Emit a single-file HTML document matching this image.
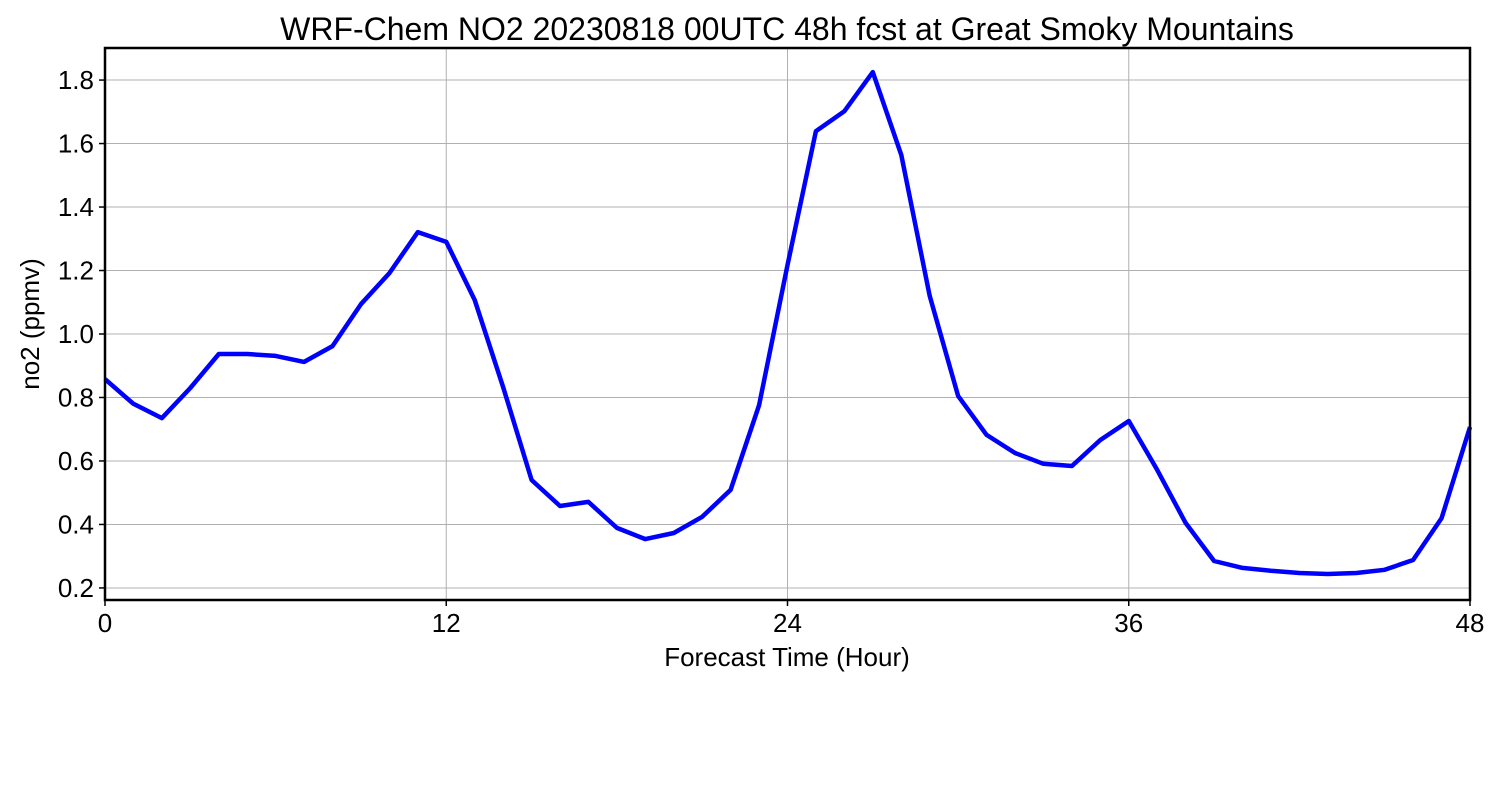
<!DOCTYPE html>
<html><head><meta charset="utf-8"><style>
body{margin:0;background:#fff;}
svg text{font-family:"Liberation Sans","DejaVu Sans",sans-serif;fill:#000;}
</style></head><body>
<svg id="chart" width="1500" height="800" xmlns="http://www.w3.org/2000/svg">
<rect width="1500" height="800" fill="#fff"/>
<text x="787" y="40" font-size="32" text-anchor="middle">WRF-Chem NO2  20230818 00UTC 48h fcst at Great Smoky Mountains</text>
<g id="grid"></g>
<g id="ticks"></g>
<path id="line" fill="none" stroke="#0000ff" stroke-width="4.5" stroke-linejoin="round"/>
<rect x="105" y="48" width="1365" height="552" fill="none" stroke="#000" stroke-width="2.5"/>
<text x="787" y="666" font-size="26" text-anchor="middle">Forecast Time (Hour)</text>
<text transform="translate(39,324) rotate(-90)" font-size="26" text-anchor="middle">no2  (ppmv)</text>
</svg>
<script>
const hours=[0,1,2,3,4,5,6,7,8,9,10,11,12,13,14,15,16,17,18,19,20,21,22,23,24,25,26,27,28,29,30,31,32,33,34,35,36,37,38,39,40,41,42,43,44,45,46,47,48];
const no2Values=[0.858,0.780,0.735,0.830,0.937,0.937,0.931,0.912,0.962,1.094,1.192,1.321,1.290,1.107,0.833,0.540,0.458,0.471,0.389,0.354,0.373,0.424,0.509,0.776,1.217,1.639,1.702,1.825,1.564,1.120,0.805,0.682,0.625,0.591,0.584,0.666,0.726,0.572,0.405,0.285,0.263,0.254,0.247,0.244,0.247,0.257,0.288,0.420,0.707];
const xTicks=[0,12,24,36,48];
const yTicks=[0.2,0.4,0.6,0.8,1.0,1.2,1.4,1.6,1.8];
const X0=105,X1=1470,Y0=600,Y1=48,xMin=0,xMax=48,yMin=0.162,yMax=1.901;
const xs=v=>X0+(v-xMin)/(xMax-xMin)*(X1-X0);
const ys=v=>Y0-(v-yMin)/(yMax-yMin)*(Y0-Y1);
const NS="http://www.w3.org/2000/svg";
const grid=document.getElementById('grid'),ticks=document.getElementById('ticks');
function mk(tag,attrs,parent){const e=document.createElementNS(NS,tag);for(const k in attrs)e.setAttribute(k,attrs[k]);parent.appendChild(e);return e;}
xTicks.forEach(t=>{const x=xs(t);
 const g=mk('line',{x1:x,x2:x,y1:Y1,y2:Y0,stroke:'#b0b0b0','stroke-width':1},grid);
 
 
 const tk=mk('line',{x1:x,x2:x,y1:Y0,y2:Y0+6,stroke:'#000','stroke-width':1.5},ticks);
 
 
 const l=mk('text',{x:x,y:632,'font-size':26,'text-anchor':'middle'},ticks);l.textContent=t;
 
 
});
yTicks.forEach(t=>{const y=ys(t);
 const g=mk('line',{x1:X0,x2:X1,y1:y,y2:y,stroke:'#b0b0b0','stroke-width':1},grid);
 
 
 const tk=mk('line',{x1:X0-6,x2:X0,y1:y,y2:y,stroke:'#000','stroke-width':1.5},ticks);
 
 
 const l=mk('text',{x:94,y:y+9,'font-size':26,'text-anchor':'end'},ticks);l.textContent=t.toFixed(1);
 
 
});
document.getElementById('line').setAttribute('d',hours.map((h,i)=>(i?'L':'M')+xs(h).toFixed(1)+','+ys(no2Values[i]).toFixed(1)).join(''));
</script>
</body></html>
